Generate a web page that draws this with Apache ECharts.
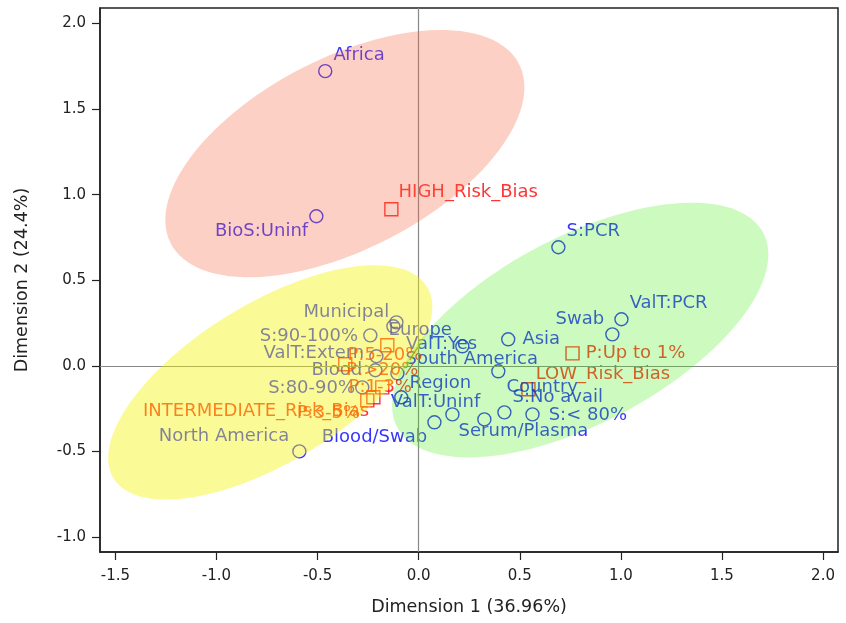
<!DOCTYPE html>
<html>
<head>
<meta charset="utf-8">
<script src="https://cdn.jsdelivr.net/npm/echarts@6/dist/echarts.min.js"></script>
<style>
  html, body { margin: 0; padding: 0; background: #fff; }
  #chart { width: 846px; height: 623px; }
</style>
</head>
<body>
<div id="chart"></div>
<script>
// category points (circles)
var circleNames = ['Africa', 'BioS:Uninf', 'S:PCR', 'ValT:PCR', 'Swab', 'Asia', 'ValT:Yes', 'Europe',
  'Municipal', 'S:90-100%', 'ValT:Extern', 'Blood', 'S:80-90%', 'North America', 'Blood/Swab',
  'Region', 'South America', 'Country', 'ValT:Uninf', 'Serum/Plasma', 'S:No avail', 'S:< 80%'];
var circleX = [-0.462, -0.506, 0.691, 1.003, 0.958, 0.443, 0.216, -0.110,
  -0.125, -0.239, -0.209, -0.214, -0.279, -0.590, 0.078,
  -0.086, -0.105, 0.394, 0.167, 0.325, 0.424, 0.563];
var circleY = [1.722, 0.874, 0.693, 0.272, 0.184, 0.155, 0.114, 0.254,
  0.231, 0.178, 0.056, -0.026, -0.126, -0.500, -0.330,
  -0.184, -0.044, -0.032, -0.284, -0.313, -0.272, -0.284];

// risk of bias / prevalence points (squares)
var squareNames = ['HIGH_Risk_Bias', 'LOW_Risk_Bias', 'INTERMEDIATE_Risk_Bias', 'P:Up to 1%',
  'P:1-3%', 'P:3-5%', 'P:5-20%', 'P:>20%'];
var squareX = [-0.135, 0.543, -0.254, 0.761, -0.180, -0.224, -0.363, -0.155];
var squareY = [0.915, -0.137, -0.202, 0.073, -0.126, -0.184, 0.009, 0.120];

// cluster ellipses: centre, semi-axes, rotation (deg)
var ellipseCx = [-0.365, -0.734, 0.799];
var ellipseCy = [1.240, -0.097, 0.209];
var ellipseA = [1.012, 0.959, 1.072];
var ellipseB = [0.535, 0.438, 0.520];
var ellipseAngle = [34.4, 38.1, 34.6];

var xTicks = [-1.5, -1.0, -0.5, 0.0, 0.5, 1.0, 1.5, 2.0];
var yTicks = [-1.0, -0.5, 0.0, 0.5, 1.0, 1.5, 2.0];

// label placement (position, offset) by name
var labelPlace = {
  'Africa': ['right', [-4, -16]],
  'BioS:Uninf': ['left', [4, 15]],
  'S:PCR': ['right', [-4, -16]],
  'ValT:PCR': ['right', [-4, -16]],
  'Swab': ['left', [4, -15]],
  'Asia': ['right', [2, 0]],
  'ValT:Yes': ['left', [27, -2]],
  'Europe': ['right', [-20, 8]],
  'Municipal': ['left', [8, -14]],
  'S:90-100%': ['left', [0, 1]],
  'ValT:Extern': ['left', [0, -3]],
  'Blood': ['left', [-1, 0]],
  'S:80-90%': ['left', [5, 1]],
  'North America': ['left', [2, -15]],
  'Blood/Swab': ['left', [5, 15]],
  'Region': ['right', [-4, -14]],
  'South America': ['right', [-4, -14]],
  'Country': ['right', [-4, 16]],
  'ValT:Uninf': ['left', [40, -12]],
  'Serum/Plasma': ['right', [-38, 12]],
  'S:No avail': ['right', [-4, -15]],
  'S:< 80%': ['right', [4, 1]],
  'HIGH_Risk_Bias': ['right', [-5, -17]],
  'LOW_Risk_Bias': ['right', [-5, -15]],
  'INTERMEDIATE_Risk_Bias': ['left', [14, 11]],
  'P:Up to 1%': ['right', [1, 0]],
  'P:1-3%': ['inside', [-2, 0]],
  'P:3-5%': ['left', [-1, 16]],
  'P:5-20%': ['right', [-10, -9]],
  'P:>20%': ['bottom', [-5, 4]]
};

var blue = '#0000ff';
var red = '#ff0000';
var ellipseColors = ['#f5623a', '#f3f300', '#37eb00'];
var ellipseOpacity = [0.3, 0.41, 0.25];
var fontFamily = 'DejaVu Sans';

function buildPoints(names, xs, ys) {
  var out = [];
  for (var i = 0; i < names.length; i++) {
    var p = labelPlace[names[i]] || ['right', [0, 0]];
    out.push({
      name: names[i],
      value: [xs[i], ys[i]],
      label: { position: p[0], offset: p[1] }
    });
  }
  return out;
}

var ellipseData = [];
for (var i = 0; i < ellipseCx.length; i++) {
  ellipseData.push([ellipseCx[i], ellipseCy[i], ellipseA[i], ellipseB[i], ellipseAngle[i], i]);
}

function renderEllipse(params, api) {
  var cx = api.value(0), cy = api.value(1), a = api.value(2), b = api.value(3);
  var th = api.value(4) * Math.PI / 180;
  var idx = api.value(5);
  var pts = [];
  for (var k = 0; k < 120; k++) {
    var t = k / 120 * Math.PI * 2;
    var dx = a * Math.cos(t) * Math.cos(th) - b * Math.sin(t) * Math.sin(th);
    var dy = a * Math.cos(t) * Math.sin(th) + b * Math.sin(t) * Math.cos(th);
    pts.push(api.coord([cx + dx, cy + dy]));
  }
  return {
    type: 'polygon',
    shape: { points: pts },
    style: { fill: ellipseColors[idx], opacity: ellipseOpacity[idx] }
  };
}

var myChart = echarts.init(document.getElementById('chart'));
myChart.setOption({
  animation: false,
  textStyle: { fontFamily: fontFamily },
  grid: {
    left: 100, right: 8, top: 8, bottom: 71,
    show: true, borderColor: '#222', borderWidth: 1.5
  },
  xAxis: {
    type: 'value',
    min: -1.576,
    max: 2.074,
    name: 'Dimension 1 (36.96%)',
    nameLocation: 'middle',
    nameGap: 46,
    nameTextStyle: { fontSize: 17.5, color: '#222', fontFamily: fontFamily },
    axisLine: { show: true, onZero: false, lineStyle: { color: '#222', width: 1.5 } },
    axisTick: { show: true, inside: false, length: 8, customValues: xTicks, lineStyle: { color: '#222', width: 1.2 } },
    axisLabel: {
      customValues: xTicks, fontSize: 15, color: '#222', margin: 17,
      formatter: function (v) { return v.toFixed(1); }
    },
    splitLine: { show: false }
  },
  yAxis: {
    type: 'value',
    min: -1.088,
    max: 2.091,
    name: 'Dimension 2 (24.4%)',
    nameLocation: 'middle',
    nameGap: 69,
    nameTextStyle: { fontSize: 17.5, color: '#222', fontFamily: fontFamily },
    axisLine: { show: true, onZero: false, lineStyle: { color: '#222', width: 1.5 } },
    axisTick: { show: true, inside: false, length: 8, customValues: yTicks, lineStyle: { color: '#222', width: 1.2 } },
    axisLabel: {
      customValues: yTicks, fontSize: 15, color: '#222', margin: 14,
      formatter: function (v) { return v.toFixed(1); }
    },
    splitLine: { show: false }
  },
  series: [
    {
      type: 'scatter',
      z: 2,
      symbol: 'circle',
      symbolSize: 13,
      itemStyle: { color: 'rgba(0,0,0,0)', borderColor: blue, borderWidth: 1.4 },
      label: { show: true, formatter: '{b}', color: blue, fontSize: 18, fontFamily: fontFamily, distance: 5 },
      data: buildPoints(circleNames, circleX, circleY),
      markLine: {
        silent: true,
        symbol: 'none',
        label: { show: false },
        lineStyle: { color: '#888', type: 'solid', width: 1.2 },
        data: [{ xAxis: 0 }, { yAxis: 0 }]
      }
    },
    {
      type: 'scatter',
      z: 2,
      symbol: 'rect',
      symbolSize: 13,
      itemStyle: { color: 'rgba(0,0,0,0)', borderColor: red, borderWidth: 1.4 },
      label: { show: true, formatter: '{b}', color: red, fontSize: 18, fontFamily: fontFamily, distance: 5 },
      data: buildPoints(squareNames, squareX, squareY)
    },
    {
      type: 'custom',
      z: 6,
      silent: true,
      renderItem: renderEllipse,
      data: ellipseData
    }
  ]
});
</script>
</body>
</html>
